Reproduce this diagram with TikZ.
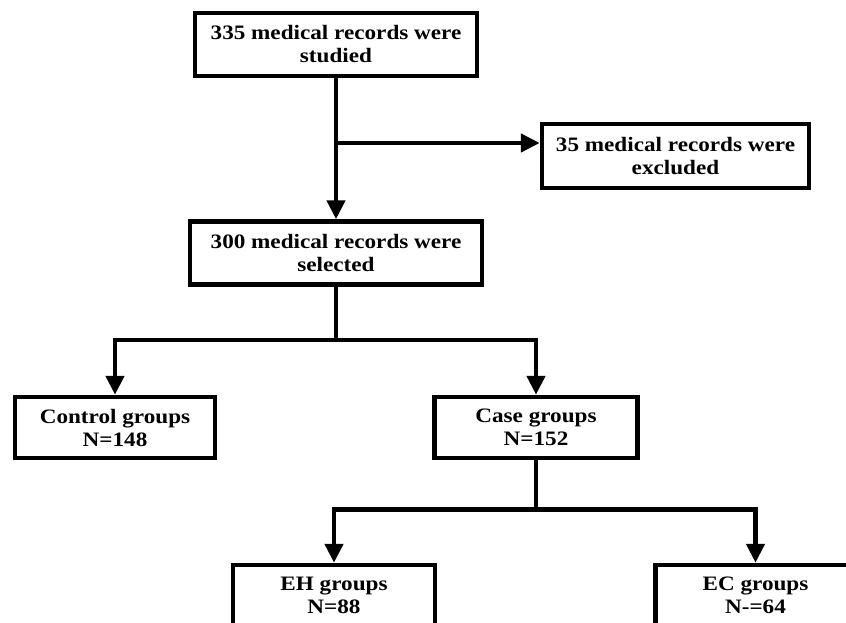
\documentclass[tikz,border=0pt]{standalone}
\usepackage{fontspec}
\setmainfont{Liberation Serif}[FakeStretch=1.13]
\usetikzlibrary{arrows.meta,positioning,calc}

\begin{document}
\begin{tikzpicture}[
    x=1pt, y=-1pt,
    box/.style={rectangle, draw, line width=4.5pt, minimum height=63pt, inner sep=0pt, align=center,
                font=\fontsize{20.5}{23}\selectfont\bfseries},
    arrow/.style={-{Triangle[length=19pt,width=18pt]}, line width=4.5pt},
    link/.style={line width=4.5pt}
]
\useasboundingbox (0,0) rectangle (846,623);
\clip (0,0) rectangle (846,623);

\node[box, minimum width=282pt] (studied) at (336,44.5) {335 medical records were\\studied};
\node[box, minimum width=267pt, minimum height=64pt] (excluded) at (675.5,156) {35 medical records were\\excluded};
\node[box, minimum width=292pt, below=141pt of studied] (selected) {300 medical records were\\selected};
\node[box, minimum width=200pt, minimum height=61pt] (control) at (115,427.5) {Control groups\\N=148};
\node[box, minimum width=203pt, minimum height=61pt, right=215pt of control] (case) {Case groups\\N=152};
\node[box, minimum width=202pt, minimum height=61pt] (eh) at (334,595.5) {EH groups\\N=88};
\node[box, minimum width=200pt, minimum height=61pt, right=216pt of eh] (ec) {EC groups\\N-=64};

\coordinate (exin) at ([yshift=13pt]excluded.west);

\draw[arrow] (studied) -- (studied |- selected.north);
\draw[arrow] (studied.south |- exin) -- (exin);
\draw[arrow] (selected.south) -- ++(0,-53pt) -| (control.north);
\draw[arrow] (selected.south) -- ++(0,-53pt) -| (case.north);
\draw[arrow] (case.south) -- ++(0,-49pt) -| (eh.north);
\draw[arrow] (case.south) -- ++(0,-49pt) -| (ec.north);
\end{tikzpicture}
\end{document}
